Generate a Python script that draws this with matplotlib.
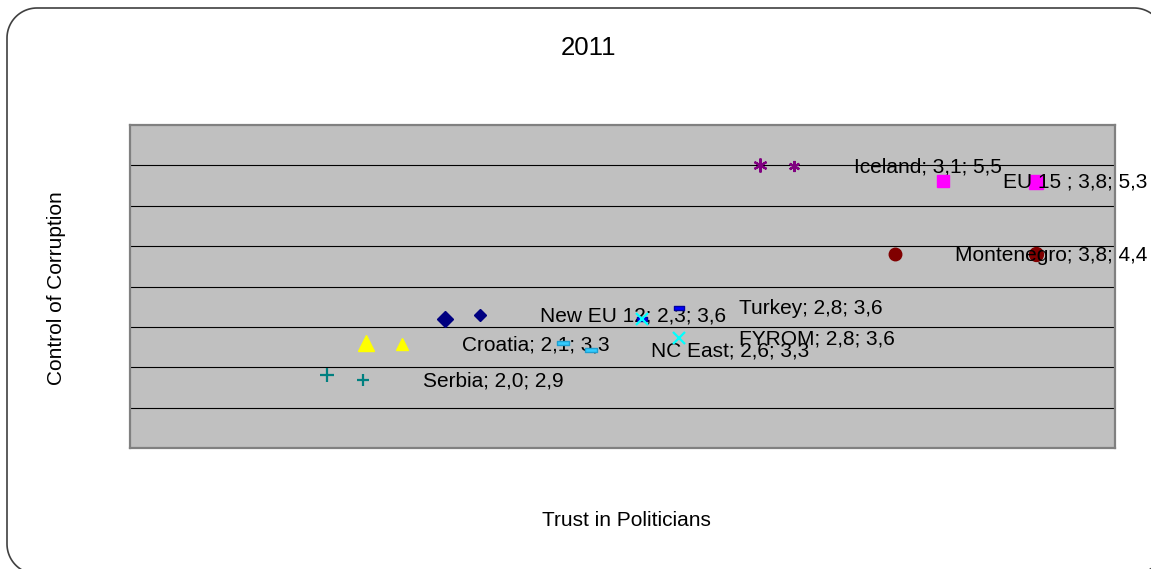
import matplotlib
matplotlib.use("Agg")
import matplotlib.pyplot as plt
import numpy as np
from matplotlib.patches import PathPatch
from matplotlib.transforms import offset_copy, IdentityTransform
from matplotlib.path import Path

plt.rcParams["font.family"] = ["Liberation Sans", "DejaVu Sans"]

# Country groups: trust in politicians (x) vs. control of corruption (y)
countries = ["Serbia", "Croatia", "New EU 12", "NC East", "Turkey",
             "FYROM", "Iceland", "EU 15 ", "Montenegro"]
trust = [2.0, 2.1, 2.3, 2.6, 2.8, 2.8, 3.1, 3.8, 3.8]
corruption = [2.9, 3.3, 3.6, 3.3, 3.6, 3.6, 5.5, 5.3, 4.4]

title = "2011"
x_label = "Trust in Politicians"
y_label = "Control of Corruption"

# Dash-shaped marker (wide flat rectangle)
dash = Path([(-1, -0.38), (1, -0.38), (1, 0.38), (-1, 0.38), (-1, -0.38)],
            [Path.MOVETO, Path.LINETO, Path.LINETO, Path.LINETO, Path.CLOSEPOLY])

# marker, face colour, edge colour, marker size (data point), key size
styles = {
    "Serbia":     ("+", "#008080", "#008080", 10, 8),
    "Croatia":    ("^", "#FFFF00", "#FFFF00", 11, 8),
    "New EU 12":  ("D", "#000080", "#000080", 8.5, 6.5),
    "NC East":    (dash, "#33CCFF", "#1E9FD0", 9, 9),
    "Turkey":     (dash, "#0000FF", "#0000A0", 7, 7),
    "FYROM":      ("x", "#00FFFF", "#00FFFF", 9, 9),
    "Iceland":    ((6, 2, 0), "#800080", "#800080", 10, 8),
    "EU 15 ":     ("s", "#FF00FF", "#FF00FF", 10, 9),
    "Montenegro": ("o", "#800000", "#800000", 10, 9),
}

# Label placement in pixels relative to the point: (key dx, key dy), y down
label_offsets = {
    "Serbia":     (36, 5),
    "Croatia":    (36, 1),
    "New EU 12":  (35, -4),
    "NC East":    (28, 7),
    "Turkey":     (37, -11),
    "FYROM":      (37, 19),
    "Iceland":    (34, 1),
    "EU 15 ":     (-93, -1),
    "Montenegro": (-141, 0),
}
TEXT_GAP = 60

W, H = 1151, 569
fig = plt.figure(figsize=(W / 100, H / 100), dpi=100)


def rounded_rect(left, top, right, bottom, r, n=24):
    """Closed rounded rectangle in display pixels (y measured from the top)."""
    pts = []
    corners = [(right - r, top + r, -90, 0), (right - r, bottom - r, 0, 90),
               (left + r, bottom - r, 90, 180), (left + r, top + r, 180, 270)]
    for cx, cy, a0, a1 in corners:
        for a in np.linspace(np.radians(a0), np.radians(a1), n):
            pts.append((cx + r * np.cos(a), H - (cy + r * np.sin(a))))
    pts.append(pts[0])
    return Path(pts, closed=True)


# Rounded chart-area frame, drawn behind the plot area
frame = PathPatch(rounded_rect(7, 8, 1164, 574, 30),
                  transform=IdentityTransform(), facecolor="none",
                  edgecolor="#404040", linewidth=1.2, zorder=-1)
fig.patches.append(frame)

ax = fig.add_axes([130 / W, 1 - 448 / H, 985 / W, 323 / H])
ax.set_zorder(1)
ax.set_xlim(1.5, 4.0)
ax.set_ylim(2.0, 6.0)
ax.set_facecolor("#C0C0C0")
for gy in np.arange(2.5, 6.0, 0.5):
    ax.axhline(gy, color="black", linewidth=0.8, zorder=1)
for sp in ax.spines.values():
    sp.set_color("#808080")
    sp.set_linewidth(1.6)
ax.set_xticks([])
ax.set_yticks([])

for i, (name, x, y) in enumerate(zip(countries, trust, corruption)):
    mk, fc, ec, ms, ks = styles[name]
    z = 3 + 2 * i
    mew = 1.6 if mk in ("+", "x", (6, 2, 0)) else 1.0
    ax.plot([x], [y], linestyle="none", marker=mk, markersize=ms,
            markerfacecolor=fc, markeredgecolor=ec, markeredgewidth=mew,
            zorder=z, clip_on=False)
    dx, dy = label_offsets[name]
    key_tr = offset_copy(ax.transData, fig=fig, x=dx, y=-dy, units="dots")
    ax.plot([x], [y], linestyle="none", marker=mk, markersize=ks,
            markerfacecolor=fc, markeredgecolor=ec, markeredgewidth=mew,
            transform=key_tr, zorder=z, clip_on=False)
    txt_tr = offset_copy(ax.transData, fig=fig, x=dx + TEXT_GAP, y=-(dy + 1),
                         units="dots")
    label = f"{name}; {x:.1f}; {y:.1f}".replace(".", ",")
    ax.text(x, y, label, transform=txt_tr, ha="left", va="center",
            fontsize=15, color="black", zorder=z + 1, clip_on=False)

fig.text(588 / W, 1 - 48 / H, title, ha="center", va="center", fontsize=18.5)
fig.text(626 / W, 1 - 520 / H, x_label, ha="center", va="center", fontsize=15)
fig.text(57 / W, 1 - 288 / H, y_label, ha="center", va="center",
         fontsize=15, rotation=90)

fig.savefig("out.png", dpi=100)
